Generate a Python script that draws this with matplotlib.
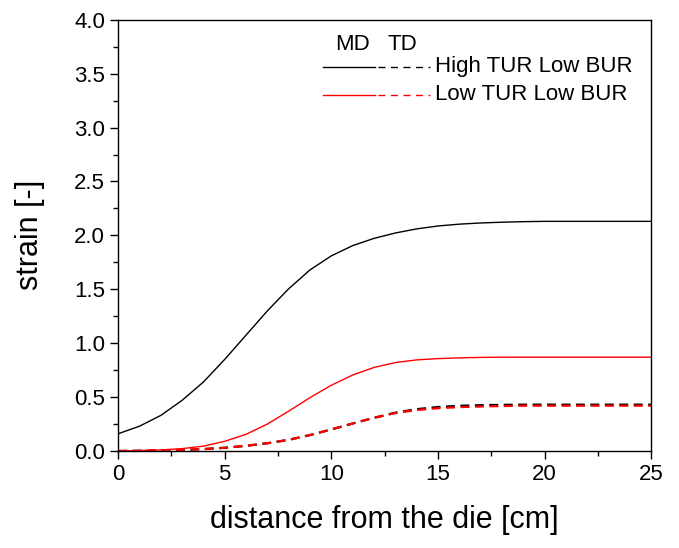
import matplotlib
matplotlib.use("Agg")
import matplotlib.pyplot as plt
from matplotlib.ticker import MultipleLocator

plt.rcParams['font.family'] = ['Liberation Sans', 'DejaVu Sans']

# distance from the die [cm]
dist = [0, 1, 2, 3, 4, 5, 6, 7, 8, 9, 10, 11, 12, 13, 14, 15, 16, 17, 18, 19, 20,
        21, 22, 23, 24, 25]

md_high = [0.16, 0.23, 0.33, 0.47, 0.64, 0.85, 1.075, 1.30, 1.505, 1.68, 1.81,
           1.905, 1.972, 2.022, 2.06, 2.087, 2.104, 2.115, 2.122, 2.127, 2.13,
           2.13, 2.13, 2.13, 2.13, 2.13]
md_low = [0.0, 0.004, 0.01, 0.022, 0.045, 0.09, 0.155, 0.25, 0.37, 0.495, 0.61,
          0.705, 0.775, 0.82, 0.845, 0.857, 0.864, 0.868, 0.87, 0.87, 0.87,
          0.87, 0.87, 0.87, 0.87, 0.87]
td_high = [0.0, 0.002, 0.005, 0.01, 0.018, 0.03, 0.048, 0.072, 0.104, 0.148, 0.20,
           0.255, 0.308, 0.355, 0.388, 0.408, 0.419, 0.425, 0.428, 0.43, 0.43,
           0.43, 0.43, 0.43, 0.43, 0.43]
td_low = [0.0, 0.002, 0.005, 0.01, 0.018, 0.03, 0.048, 0.072, 0.104, 0.148, 0.20,
          0.255, 0.308, 0.352, 0.38, 0.397, 0.407, 0.413, 0.417, 0.42, 0.42,
          0.42, 0.42, 0.42, 0.42, 0.42]

fig = plt.figure(figsize=(6.79, 5.48), dpi=100)
ax = fig.add_axes([0.174, 0.177, 0.785, 0.787])

ax.plot(dist, md_high, color="k", lw=1.0)
ax.plot(dist, td_high, color="k", lw=1.6, ls=(0, (4, 2.5)))
ax.plot(dist, md_low, color="red", lw=1.0)
ax.plot(dist, td_low, color="red", lw=1.6, ls=(0, (4, 2.5)))

ax.set_xlim(0, 25)
ax.set_ylim(0, 4)
ax.xaxis.set_major_locator(MultipleLocator(5))
ax.xaxis.set_minor_locator(MultipleLocator(2.5))
ax.yaxis.set_major_locator(MultipleLocator(0.5))
ax.yaxis.set_minor_locator(MultipleLocator(0.25))
ax.yaxis.set_major_formatter(plt.FormatStrFormatter('%.1f'))
ax.tick_params(which="major", direction="out", length=6, width=1, labelsize=16)
ax.tick_params(which="minor", direction="out", length=3.5, width=1)
for s in ax.spines.values():
    s.set_linewidth(1.0)

ax.set_xlabel("distance from the die [cm]", fontsize=22, labelpad=14)
ax.set_ylabel("strain [-]", fontsize=22, labelpad=21)

# custom legend (MD solid, TD dashed)
tr = ax.transAxes
ax.text(0.439, 0.942, "MD", transform=tr, fontsize=16, ha="center", va="center")
ax.text(0.533, 0.942, "TD", transform=tr, fontsize=16, ha="center", va="center")
for yy, col, lab in [(0.891, "k", "High TUR Low BUR"), (0.826, "red", "Low TUR Low BUR")]:
    ax.plot([0.385, 0.482], [yy, yy], color=col, lw=1.0, transform=tr)
    ax.plot([0.487, 0.585], [yy, yy], color=col, lw=1.0, ls=(0, (5, 4)), transform=tr)
    ax.text(0.595, yy, lab, transform=tr, fontsize=16, ha="left", va="center")

fig.savefig("out.png", dpi=100)
